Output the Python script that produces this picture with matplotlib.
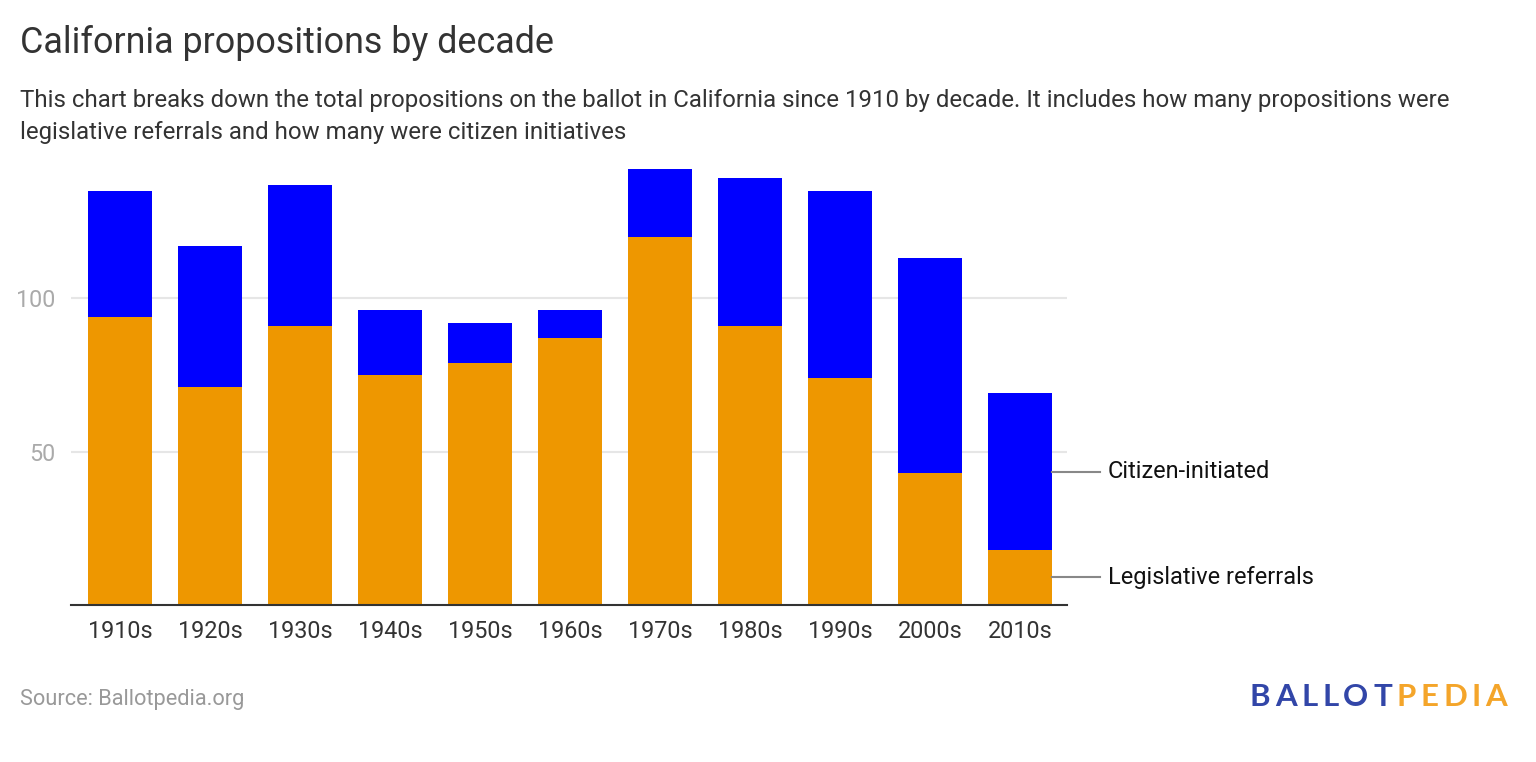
import matplotlib
matplotlib.use('Agg')
import matplotlib.pyplot as plt
import numpy as np

plt.rcParams['font.family'] = ['Roboto', 'DejaVu Sans']

# Data
decades = ['1910s', '1920s', '1930s', '1940s', '1950s', '1960s',
           '1970s', '1980s', '1990s', '2000s', '2010s']
legislative = [94, 71, 91, 75, 79, 87, 120, 91, 74, 43, 18]
citizen = [41, 46, 46, 21, 13, 9, 22, 48, 61, 70, 51]
y_ticks = [50, 100]

ORANGE = '#EE9700'
BLUE = '#0000FF'

fig = plt.figure(figsize=(15.36, 7.62), dpi=100)
ax = fig.add_axes([71 / 1536, 1 - 605 / 762, 996 / 1536, (605 - 160) / 762])

x = np.arange(len(decades))
leg = np.array(legislative)
cit = np.array(citizen)
ax.bar(x, leg, width=0.71, color=ORANGE, zorder=2)
ax.bar(x, cit, width=0.71, bottom=leg, color=BLUE, zorder=2)

ax.set_xlim(-0.545, len(decades) - 1 + 0.52)
ax.set_ylim(0, 145)
ax.set_yticks(y_ticks)
ax.set_yticklabels([str(v) for v in y_ticks])
ax.yaxis.grid(True, color='#e6e6e6', linewidth=1.5, zorder=0)
ax.set_xticks(x)
ax.set_xticklabels(decades)
ax.tick_params(axis='x', length=0, pad=11, labelsize=16.8, labelcolor='#333333')
ax.tick_params(axis='y', length=0, pad=11, labelsize=16.8, labelcolor='#aaaaaa')
for side in ['top', 'right', 'left']:
    ax.spines[side].set_visible(False)
ax.spines['bottom'].set_color('#333333')
ax.spines['bottom'].set_linewidth(1.5)
ax.spines['bottom'].set_zorder(3)

# Direct labels for the last bar
last = len(decades) - 1
label_x0 = last + 0.355
label_x1 = last + 0.89
for yv, txt in [(leg[last] + cit[last] / 2, 'Citizen-initiated'),
                (leg[last] / 2, 'Legislative referrals')]:
    ax.plot([label_x0, label_x1], [yv, yv], color='#888888', lw=1.5,
            clip_on=False, zorder=3)
    ax.text(label_x1 + 0.08, yv, txt, fontsize=16.9, color='#111111',
            va='center', ha='left', clip_on=False)

fig.text(20 / 1536, 1 - 43 / 762, 'California propositions by decade',
         fontsize=25.8, color='#333333', va='center', ha='left')
fig.text(20 / 1536, 1 - 116 / 762,
         'This chart breaks down the total propositions on the ballot in California since 1910 by decade. It includes how many propositions were\n'
         'legislative referrals and how many were citizen initiatives',
         fontsize=17.3, color='#333333', va='center', ha='left', linespacing=1.5)
fig.text(20 / 1536, 1 - 700 / 762, 'Source: Ballotpedia.org',
         fontsize=15.7, color='#999999', va='center', ha='left')

# Logo, letter by letter to get the wide tracking
renderer = fig.canvas.get_renderer()
logo = [('BALLOT', '#3246A8'), ('PEDIA', '#F4A52A')]
px = 1250
for word, col in logo:
    for ch in word:
        t = fig.text(px / 1536, 1 - 697 / 762, ch, fontsize=22.5, fontweight='bold',
                     color=col, va='center', ha='left', family=['Lato', 'DejaVu Sans'])
        w = t.get_window_extent(renderer).width
        px += w + 4.6

fig.savefig('out.png', dpi=100, facecolor='white')
